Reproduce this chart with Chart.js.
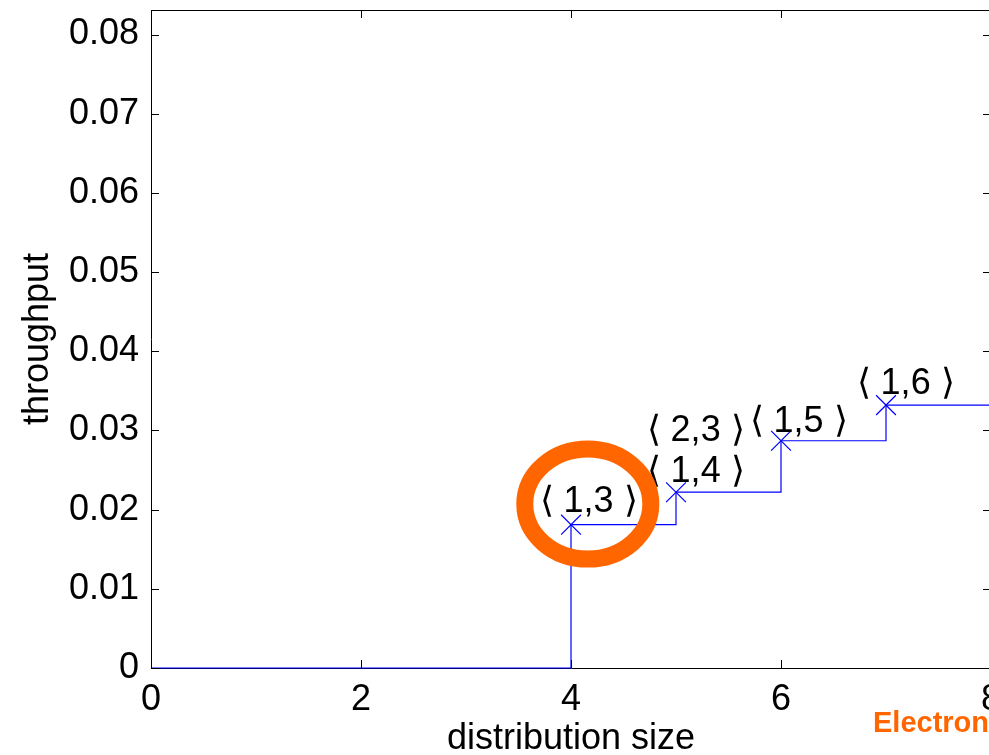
<!DOCTYPE html>
<html>
<head>
<meta charset="utf-8">
<script src="https://cdn.jsdelivr.net/npm/chart.js@4"></script>
<style>
  html, body { margin: 0; padding: 0; background: #fff; overflow: hidden; }
  .chart-box { width: 1000px; height: 755px; position: relative; }
</style>
</head>
<body>
<div class="chart-box"><canvas id="throughput-chart" width="1000" height="755"></canvas></div>
<script>
// staircase (distribution size -> throughput)
const stepX = [0, 4, 5, 6, 7, 8];
const stepY = [0, 0.0181, 0.0222, 0.0287, 0.0332, 0.0332];

// points marked with an X
const markX = [4, 5, 6, 7];
const markY = [0.0181, 0.0222, 0.0287, 0.0332];

// text annotations (left edge x, middle y, in data units)
const noteText = ['\u27E8 1,3 \u27E9', '\u27E8 1,4 \u27E9', '\u27E8 2,3 \u27E9', '\u27E8 1,5 \u27E9', '\u27E8 1,6 \u27E9'];
const noteX = [3.70, 4.72, 4.72, 5.70, 6.72];
const noteY = [0.0210, 0.0248, 0.0299, 0.0310, 0.0358];

// highlighted point (orange ring)
const ringX = 4.16;
const ringY = 0.0207;

const xTicks = [0, 2, 4, 6, 8];
const yTicks = [0, 0.01, 0.02, 0.03, 0.04, 0.05, 0.06, 0.07, 0.08];

const FONT = '"Liberation Sans", Arial, sans-serif';

// box, inward tick marks + annotations, like the original plot
const decor = {
  id: 'decor',
  afterDatasetsDraw(chart) {
    const { ctx, chartArea: a, scales: { x, y } } = chart;
    ctx.save();
    ctx.strokeStyle = '#000';
    ctx.lineWidth = 1;
    ctx.beginPath();
    ctx.moveTo(a.left, a.top + 0.5); ctx.lineTo(a.right, a.top + 0.5);
    ctx.moveTo(a.right - 0.5, a.top); ctx.lineTo(a.right - 0.5, a.bottom);
    xTicks.forEach(v => {
      const px = Math.round(x.getPixelForValue(v)) + 0.5;
      ctx.moveTo(px, a.bottom); ctx.lineTo(px, a.bottom - 8);
      ctx.moveTo(px, a.top); ctx.lineTo(px, a.top + 8);
    });
    yTicks.forEach(v => {
      const py = Math.round(y.getPixelForValue(v)) + 0.5;
      ctx.moveTo(a.left, py); ctx.lineTo(a.left + 8, py);
      ctx.moveTo(a.right, py); ctx.lineTo(a.right - 8, py);
    });
    ctx.stroke();

    // labels
    ctx.fillStyle = '#000';
    ctx.font = '36px ' + FONT;
    ctx.textAlign = 'left';
    ctx.textBaseline = 'middle';
    noteText.forEach((t, i) => {
      ctx.fillText(t, x.getPixelForValue(noteX[i]), y.getPixelForValue(noteY[i]));
    });

    // orange ring
    ctx.strokeStyle = '#FF6600';
    ctx.lineWidth = 17;
    ctx.beginPath();
    ctx.ellipse(x.getPixelForValue(ringX), y.getPixelForValue(ringY), 63, 55, 0, 0, Math.PI * 2);
    ctx.stroke();

    // cut-off caption at the bottom right
    ctx.fillStyle = '#FF6600';
    ctx.font = 'bold 29px ' + FONT;
    ctx.textBaseline = 'alphabetic';
    ctx.fillText('Electronic', 873, 732);
    ctx.restore();
  }
};

const ctx = document.getElementById('throughput-chart').getContext('2d');

new Chart(ctx, {
  type: 'scatter',
  data: {
    datasets: [
      {
        type: 'line',
        data: stepX.map((v, i) => ({ x: v, y: stepY[i] })),
        borderColor: '#0000FF',
        borderWidth: 1.2,
        stepped: 'before',
        pointRadius: 0,
        fill: false,
        clip: 4,
      },
      {
        data: markX.map((v, i) => ({ x: v, y: markY[i] })),
        pointStyle: 'crossRot',
        pointRadius: 14,
        borderColor: '#0000FF',
        backgroundColor: '#0000FF',
        borderWidth: 1.2,
        clip: false,
      },
    ],
  },
  options: {
    responsive: false,
    animation: false,
    layout: { autoPadding: false, padding: { top: 10, right: 9, left: 0, bottom: 0 } },
    plugins: { legend: { display: false }, tooltip: { enabled: false } },
    scales: {
      x: {
        type: 'linear',
        min: 0,
        max: 8,
        afterBuildTicks: s => { s.ticks = xTicks.map(v => ({ value: v })); },
        grid: { drawOnChartArea: false, drawTicks: false },
        border: { display: true, color: '#000', width: 1 },
        ticks: {
          color: '#000',
          font: { family: FONT, size: 36 },
          padding: 10,
          maxRotation: 0,
          autoSkip: false,
        },
        title: {
          display: true,
          text: 'distribution size',
          color: '#000',
          font: { family: FONT, size: 36 },
          padding: { top: 0, bottom: -6 },
        },
        afterFit: s => { s.height = 87; s.paddingLeft = 0; s.paddingRight = 0; },
      },
      y: {
        type: 'linear',
        min: 0,
        max: 0.0831,
        afterBuildTicks: s => { s.ticks = yTicks.map(v => ({ value: v })); },
        grid: { drawOnChartArea: false, drawTicks: false },
        border: { display: true, color: '#000', width: 1 },
        ticks: {
          color: '#000',
          font: { family: FONT, size: 36 },
          padding: 12,
          autoSkip: false,
          callback: v => (v === 0 ? '0' : v.toFixed(2)),
        },
        title: {
          display: true,
          text: 'throughput',
          color: '#000',
          font: { family: FONT, size: 36 },
          padding: { top: 16, bottom: 0 },
        },
        afterFit: s => { s.width = 151; s.paddingTop = 0; s.paddingBottom = 0; },
      },
    },
  },
  plugins: [decor],
});
</script>
</body>
</html>
